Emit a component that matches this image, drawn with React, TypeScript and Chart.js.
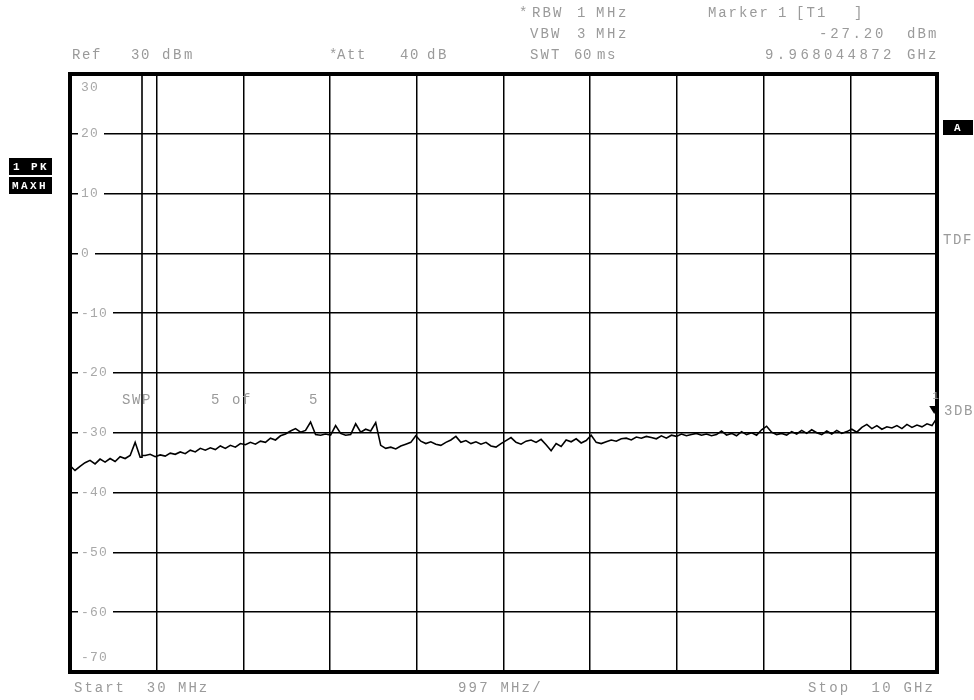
import React, { useEffect, useRef } from "react";
import { Chart, registerables } from "chart.js";

Chart.register(...registerables);

// ---- Data ----
const START_GHZ = 0.03;
const STOP_GHZ = 10;
const GHZ_PER_DIV = 0.997;
const REF_LEVEL_DBM = 30;
const BOTTOM_LEVEL_DBM = -70;
const DB_PER_DIV = 10;

const Y_TICK_LABELS = ["30", "20", "10", "0", "-10", "-20", "-30", "-40", "-50", "-60", "-70"];
const Y_TICK_VALUES = [30, 20, 10, 0, -10, -20, -30, -40, -50, -60, -70];

// Max-hold trace levels (dBm), evenly spaced sweep points from start to stop
const TRACE_LEVELS = [
  -35.5, -36.3, -35.6, -35.0, -34.6, -35.2, -34.4, -34.9, -34.3, -34.8,
  -34.0, -34.3, -33.8, -31.6, -34.1, -33.8, -33.6, -34.0, -33.7, -33.9,
  -33.4, -33.6, -33.2, -33.5, -32.9, -33.2, -32.6, -32.9, -32.5, -32.8,
  -32.2, -32.6, -32.1, -32.4, -31.8, -32.0, -31.6, -31.9, -31.4, -31.6,
  -30.9, -31.2, -30.5, -30.2, -29.7, -29.3, -29.9, -29.6, -28.2, -30.3,
  -30.4, -30.2, -30.4, -28.8, -30.1, -30.4, -30.3, -28.5, -29.9, -29.4,
  -29.7, -28.3, -32.1, -32.6, -32.4, -32.7, -32.2, -31.9, -31.6, -30.5,
  -31.4, -31.8, -31.5, -31.9, -32.1, -31.6, -31.2, -30.6, -31.6, -31.3,
  -31.8, -31.5, -31.9, -31.6, -32.2, -32.4, -31.8, -31.3, -30.8, -31.6,
  -31.9, -31.4, -31.2, -31.6, -31.1, -32.0, -33.0, -31.8, -32.3, -31.2,
  -31.5, -31.0, -31.7, -31.3, -30.4, -31.6, -31.8, -31.5, -31.2, -31.4,
  -31.0, -30.9, -31.2, -30.7, -30.9, -30.6, -30.8, -31.0, -30.5, -30.9,
  -30.4, -30.6, -30.2, -30.5, -30.3, -30.1, -30.4, -30.2, -30.5, -30.3,
  -29.7, -30.4, -30.1, -30.5, -29.8, -30.3, -30.0, -30.4, -29.5, -28.9,
  -29.9, -30.3, -30.1, -30.4, -29.8, -30.2, -29.6, -30.1, -29.5, -30.0,
  -30.3, -29.7, -30.2, -29.6, -30.1, -29.8, -29.4, -29.9, -29.1, -28.6,
  -29.3, -28.8, -29.4, -29.0, -29.2, -28.8, -29.3, -28.6, -29.1, -28.7,
  -29.0, -28.5, -28.8, -27.5,
];

// Off-screen carrier near 0.86 GHz (rises above the reference level)
const SPIKE_FREQ_GHZ = 0.858;
const SPIKE_LEVEL_DBM = 45;

// Marker 1
const MARKER_FREQ_GHZ = 9.968044872;
const MARKER_LEVEL_DBM = -27.2;

function buildTrace() {
  const n = TRACE_LEVELS.length;
  const step = (STOP_GHZ - START_GHZ) / (n - 1);
  const pts: { x: number; y: number }[] = [];
  let spikeDone = false;
  for (let i = 0; i < n; i++) {
    const f = START_GHZ + i * step;
    if (!spikeDone && f > SPIKE_FREQ_GHZ) {
      const base = TRACE_LEVELS[i - 1];
      pts.push({ x: SPIKE_FREQ_GHZ, y: base });
      pts.push({ x: SPIKE_FREQ_GHZ, y: SPIKE_LEVEL_DBM });
      pts.push({ x: SPIKE_FREQ_GHZ, y: TRACE_LEVELS[i] });
      spikeDone = true;
    }
    pts.push({ x: f, y: TRACE_LEVELS[i] });
  }
  return pts;
}

const GRAY = "#9a9a9a";
const FONT = "'Liberation Mono', 'DejaVu Sans Mono', monospace";

function spaced(ctx: CanvasRenderingContext2D, text: string, x: number, y: number, pitch: number) {
  for (let i = 0; i < text.length; i++) {
    ctx.fillText(text[i], x + i * pitch, y);
  }
}

const overlayPlugin = {
  id: "saOverlay",
  beforeDraw(chart: any) {
    const ctx = chart.ctx as CanvasRenderingContext2D;
    ctx.save();
    ctx.fillStyle = "#ffffff";
    ctx.fillRect(0, 0, chart.width, chart.height);
    ctx.restore();
  },
  afterDraw(chart: any) {
    const ctx = chart.ctx as CanvasRenderingContext2D;
    const { left, right, top, bottom } = chart.chartArea;
    const ys = chart.scales.y;
    const xs = chart.scales.x;
    ctx.save();

    // y labels inside the grid, with the line broken behind them
    ctx.textBaseline = "middle";
    ctx.font = `13px ${FONT}`;
    Y_TICK_VALUES.forEach((v, i) => {
      const label = Y_TICK_LABELS[i];
      let y = ys.getPixelForValue(v);
      const w = label.length * 9;
      if (i === 0) y = top + 14;
      else if (i === Y_TICK_VALUES.length - 1) y = bottom - 14;
      else {
        ctx.fillStyle = "#ffffff";
        ctx.fillRect(left + 8, y - 4, w + 8, 8);
      }
      ctx.fillStyle = "#a8a8a8";
      spaced(ctx, label, left + 11, y, 9);
    });

    // plot frame
    ctx.strokeStyle = "#000";
    ctx.lineWidth = 4;
    ctx.strokeRect(left, top, right - left, bottom - top);

    // header texts
    ctx.fillStyle = GRAY;
    ctx.font = `14px ${FONT}`;
    const words: [string, number, number, number][] = [
      ["*", 519, 13, 10], ["RBW", 532, 13, 10.5], ["1", 577, 13, 10], ["MHz", 596, 13, 11],
      ["Marker", 708, 13, 10.3], ["1", 778, 13, 10], ["[T1", 796, 13, 10.5], ["]", 854, 13, 10],
      ["VBW", 530, 34, 10.5], ["3", 577, 34, 10], ["MHz", 596, 34, 11],
      ["-27.20", 819, 34, 11.2], ["dBm", 907, 34, 10.5],
      ["Ref", 72, 55, 10], ["30", 131, 55, 10], ["dBm", 162, 55, 11],
      ["*", 329, 55, 10], ["Att", 337, 55, 10], ["40", 400, 55, 10], ["dB", 427, 55, 11],
      ["SWT", 530, 55, 10.5], ["60", 574, 55, 9], ["ms", 597, 55, 10],
      ["9.968044872", 765, 55, 11.8], ["GHz", 907, 55, 10.5],
      ["Start  30 MHz", 74, 688, 10.4], ["997 MHz/", 458, 688, 10.6], ["Stop  10 GHz", 808, 688, 10.6],
      ["SWP", 122, 400, 10], ["5", 211, 400, 10], ["of", 232, 400, 10], ["5", 309, 400, 10],
      ["TDF", 943, 240, 10], ["3DB", 944, 411, 10],
    ];
    words.forEach(([t, x, y, p]) => spaced(ctx, t, x, y, p));

    // left / right badges
    ctx.fillStyle = "#000";
    ctx.fillRect(9, 158, 43, 17);
    ctx.fillRect(9, 177, 43, 17);
    ctx.fillRect(943, 120, 30, 15);
    ctx.fillStyle = "#fff";
    ctx.font = `bold 11px ${FONT}`;
    spaced(ctx, "1 PK", 13, 167, 9);
    spaced(ctx, "MAXH", 12, 186, 9);
    spaced(ctx, "A", 954, 128, 10);

    // marker 1 symbol
    const mx = xs.getPixelForValue(MARKER_FREQ_GHZ);
    const my = ys.getPixelForValue(MARKER_LEVEL_DBM);
    ctx.fillStyle = "#000";
    ctx.beginPath();
    ctx.moveTo(mx - 5, my - 10);
    ctx.lineTo(mx + 4, my - 10);
    ctx.lineTo(mx, my - 2);
    ctx.closePath();
    ctx.fill();
    ctx.fillStyle = GRAY;
    ctx.font = `11px ${FONT}`;
    ctx.fillText("1", mx - 2, my - 20);

    ctx.restore();
  },
};

export default function App() {
  const ref = useRef<HTMLCanvasElement | null>(null);
  useEffect(() => {
    if (!ref.current) return;
    const xTicks: number[] = [];
    for (let k = 0; k <= 10; k++) xTicks.push(START_GHZ + k * GHZ_PER_DIV);
    const chart = new Chart(ref.current, {
      type: "line",
      data: {
        datasets: [
          {
            data: buildTrace(),
            borderColor: "#000",
            borderWidth: 1.6,
            pointRadius: 0,
            tension: 0,
            fill: false,
          },
        ],
      },
      options: {
        animation: false,
        responsive: false,
        devicePixelRatio: 1,
        parsing: false as any,
        layout: { padding: { left: 70, right: 37, top: 74, bottom: 28 } },
        plugins: { legend: { display: false }, tooltip: { enabled: false } },
        scales: {
          x: {
            type: "linear",
            min: START_GHZ,
            max: STOP_GHZ,
            afterBuildTicks: (scale: any) => {
              scale.ticks = xTicks.map((v) => ({ value: v }));
            },
            ticks: { display: false },
            grid: { color: "#000", lineWidth: 1.5, drawTicks: false },
            border: { display: false },
          },
          y: {
            type: "linear",
            min: BOTTOM_LEVEL_DBM,
            max: REF_LEVEL_DBM,
            ticks: { display: false, stepSize: DB_PER_DIV },
            grid: { color: "#000", lineWidth: 1.5, drawTicks: false },
            border: { display: false },
          },
        },
      },
      plugins: [overlayPlugin],
    });
    return () => chart.destroy();
  }, []);
  return (
    <div style={{ position: "absolute", left: 0, top: 0, width: 974, height: 700, background: "#fff" }}>
      <canvas ref={ref} width={974} height={700} style={{ display: "block" }} />
    </div>
  );
}
